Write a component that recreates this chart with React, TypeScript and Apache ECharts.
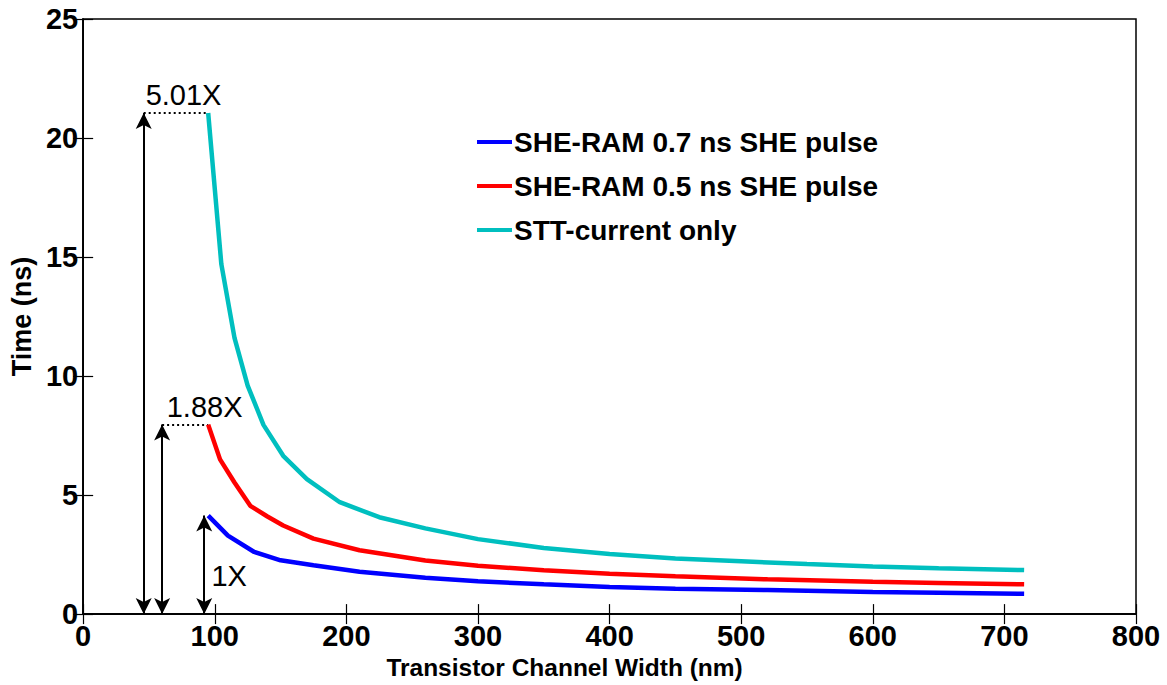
import React, { useEffect, useRef } from "react";
import * as echarts from "echarts";

// Series data (x in nm, y in ns)
const stt_x = [95, 105, 115, 125, 137, 152, 170, 195, 225, 260, 300, 350, 400, 450, 500, 550, 600, 650, 715];
const stt_y = [21.05, 14.7, 11.6, 9.6, 7.95, 6.65, 5.67, 4.7, 4.07, 3.6, 3.15, 2.78, 2.52, 2.34, 2.22, 2.1, 2.0, 1.93, 1.85];

const she05_x = [95, 104, 115, 127, 140, 152, 175, 210, 260, 300, 350, 400, 450, 520, 600, 650, 715];
const she05_y = [7.96, 6.5, 5.53, 4.55, 4.1, 3.72, 3.17, 2.68, 2.25, 2.03, 1.84, 1.7, 1.59, 1.46, 1.36, 1.31, 1.25];

const she07_x = [95, 110, 130, 150, 175, 210, 260, 300, 350, 400, 450, 520, 600, 650, 715];
const she07_y = [4.14, 3.3, 2.61, 2.26, 2.05, 1.78, 1.53, 1.38, 1.25, 1.14, 1.07, 1.01, 0.93, 0.9, 0.85];

const seriesNames = ["SHE-RAM 0.7 ns SHE pulse", "SHE-RAM 0.5 ns SHE pulse", "STT-current only"];

// Annotations: double arrows (x, top y), dotted connectors, ratio labels
const arrowX = [46, 60, 92];
const arrowTop = [21.05, 7.96, 4.14];
const dotStartX = [46, 60];
const dotEndX = [95, 95];
const dotY = [21.05, 7.96];
const ratioLabels = ["5.01X", "1.88X", "1X"];
const ratioLabelX = [47.5, 63.5, 97.5];
const ratioLabelY = [21.8, 8.7, 1.6];

const xTicks = { min: 0, max: 800, interval: 100 };
const yTicks = { min: 0, max: 25, interval: 5 };

const zip = (xs: number[], ys: number[]) => xs.map((x, i) => [x, ys[i]]);

export default function App() {
  const ref = useRef<HTMLDivElement>(null);
  useEffect(() => {
    if (!ref.current) return;
    const chart = echarts.init(ref.current, null, { renderer: "svg" });
    const font = "'Liberation Sans', Arial, Helvetica, sans-serif";
    const axisLine = { show: true, lineStyle: { color: "#000", width: 1.5 } };
    const tick = { show: true, inside: true, length: 10, lineStyle: { color: "#000", width: 1.2 } };
    const option: any = {
      animation: false,
      backgroundColor: "#fff",
      textStyle: { fontFamily: font },
      grid: { left: 78, right: 31, top: 19, bottom: 66, show: true, borderColor: "#000", borderWidth: 1.5 },
      legend: {
        data: seriesNames,
        orient: "vertical",
        left: 472,
        top: 122,
        icon: "rect",
        itemWidth: 35,
        itemHeight: 4,
        itemGap: 14,
        textStyle: { fontFamily: font, fontSize: 28, fontWeight: "bold", color: "#000", lineHeight: 30, padding: [0, 0, 0, -3] },
        selectedMode: false,
      },
      xAxis: [
        {
          type: "value",
          ...xTicks,
          axisLine,
          axisTick: tick,
          splitLine: { show: false },
          axisLabel: { color: "#000", fontSize: 29, fontWeight: "bold", margin: 7, fontFamily: font },
          name: "Transistor Channel Width (nm)",
          nameLocation: "middle",
          nameGap: 32,
          nameTextStyle: { color: "#000", fontSize: 24.5, fontWeight: "bold", fontFamily: font, padding: [0, 90, 0, 0] },
        },
        {
          type: "value",
          position: "top",
          ...xTicks,
          axisLine,
          axisTick: tick,
          splitLine: { show: false },
          axisLabel: { show: false },
        },
      ],
      yAxis: [
        {
          type: "value",
          ...yTicks,
          axisLine,
          axisTick: tick,
          splitLine: { show: false },
          axisLabel: { color: "#000", fontSize: 29, fontWeight: "bold", margin: 5, fontFamily: font },
          name: "Time (ns)",
          nameLocation: "middle",
          nameGap: 42,
          nameTextStyle: { color: "#000", fontSize: 27, fontWeight: "bold", fontFamily: font },
        },
        {
          type: "value",
          position: "right",
          ...yTicks,
          axisLine,
          axisTick: tick,
          splitLine: { show: false },
          axisLabel: { show: false },
        },
      ],
      series: [
        {
          name: seriesNames[0],
          type: "line",
          data: zip(she07_x, she07_y),
          symbol: "none",
          lineStyle: { color: "#0000ff", width: 4.5 },
          itemStyle: { color: "#0000ff" },
          z: 5,
        },
        {
          name: seriesNames[1],
          type: "line",
          data: zip(she05_x, she05_y),
          symbol: "none",
          lineStyle: { color: "#ff0000", width: 4.5 },
          itemStyle: { color: "#ff0000" },
          z: 5,
        },
        {
          name: seriesNames[2],
          type: "line",
          data: zip(stt_x, stt_y),
          symbol: "none",
          lineStyle: { color: "#00bfbf", width: 4.5 },
          itemStyle: { color: "#00bfbf" },
          z: 5,
        },
        {
          name: "arrows",
          type: "scatter",
          data: [],
          silent: true,
          markLine: {
            silent: true,
            symbol: ["arrow", "arrow"],
            symbolSize: [12, 16],
            label: { show: false },
            lineStyle: { color: "#000", width: 2, type: "solid" },
            emphasis: { disabled: true },
            data: arrowX.map((x, i) => [{ coord: [x, 0] }, { coord: [x, arrowTop[i]] }]),
          },
        },
        {
          name: "dots",
          type: "scatter",
          data: [],
          silent: true,
          markLine: {
            silent: true,
            symbol: ["none", "none"],
            label: { show: false },
            lineStyle: { color: "#000", width: 2, type: [2, 3] },
            emphasis: { disabled: true },
            data: dotStartX.map((x, i) => [{ coord: [x, dotY[i]] }, { coord: [dotEndX[i], dotY[i]] }]),
          },
        },
        {
          name: "ratios",
          type: "scatter",
          symbolSize: 0,
          silent: true,
          itemStyle: { color: "#000", opacity: 1 },
          data: ratioLabels.map((t, i) => [ratioLabelX[i], ratioLabelY[i], t]),
          label: {
            show: true,
            position: "right",
            distance: 0,
            formatter: (p: any) => p.value[2],
            color: "#000",
            opacity: 1,
            fontSize: 29,
            fontWeight: "normal",
            fontFamily: font,
            textBorderWidth: 0,
          },
        },
      ],
    };
    chart.setOption(option);
    return () => chart.dispose();
  }, []);
  return (
    <div
      ref={ref}
      style={{ position: "fixed", left: 0, top: 0, width: 1167, height: 685, background: "#fff" }}
    />
  );
}
